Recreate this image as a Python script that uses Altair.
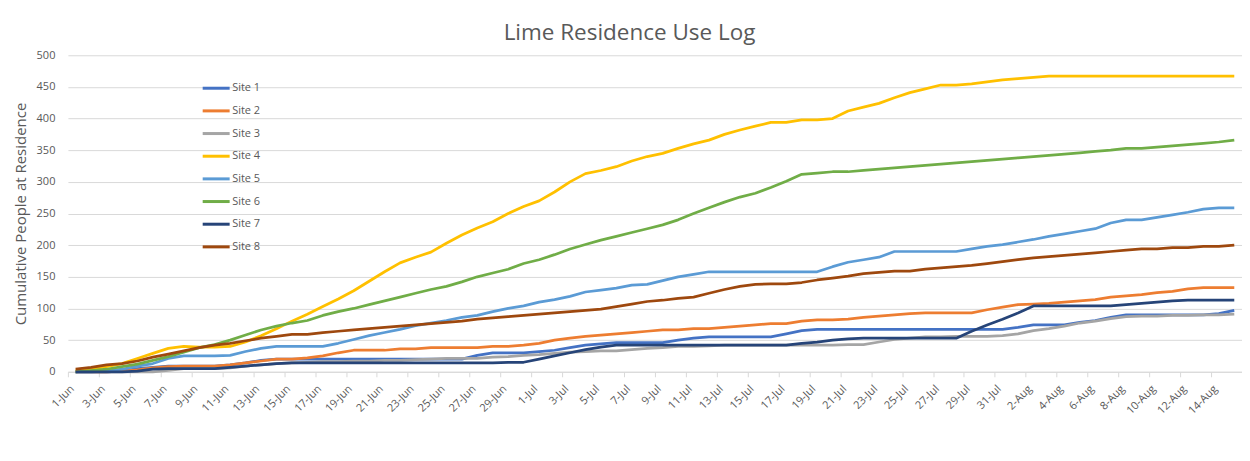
import altair as alt
import pandas as pd

start = pd.Timestamp("2019-06-01")
dates = [f"{d.day}-{d.strftime('%b')}" for d in pd.date_range(start, periods=76)]

sites = ["Site 1", "Site 2", "Site 3", "Site 4", "Site 5", "Site 6", "Site 7", "Site 8"]
colors = ["#4472C4", "#ED7D31", "#A5A5A5", "#FFC000", "#5B9BD5", "#70AD47", "#264478", "#9E480E"]

site1 = [0,0,0,1,5,7,9,9,9,9, 11,14,18,20,20,20,20,20,20,20, 20,20,20,20,20,20,26,30,30,30,
         32,34,38,42,44,46,46,46,46,50, 53,55,55,55,55,55,60,65,67,67, 67,67,67,67,67,67,67,67,67,67,
         67,70,74,74,74,78,81,86,90,90, 90,90,90,90,92,97]
site2 = [0,0,0,1,3,6,8,9,9,9, 11,14,17,20,20,22,25,30,34,34, 34,36,36,38,38,38,38,40,40,42,
         45,50,53,56,58,60,62,64,66,66, 68,68,70,72,74,76,76,80,82,82, 83,86,88,90,92,93,93,93,93,98,
         102,106,107,108,110,112,114,118,120,122, 125,127,131,133,133,133]
site3 = [0,0,0,0,0,0,2,5,5,5, 6,9,11,13,14,15,16,16,17,17, 18,18,19,20,21,21,21,23,24,26,
         27,29,31,32,33,33,35,37,38,40, 40,41,42,42,42,42,42,42,42,42, 43,43,47,51,53,55,55,56,56,56,
         57,60,65,68,72,77,80,84,87,88, 88,89,89,90,90,91]
site4 = [2,4,8,13,21,29,37,40,39,39, 40,47,57,68,80,91,103,115,128,143, 158,172,181,189,203,216,227,237,250,261,
         270,284,300,313,318,324,333,340,345,353, 360,366,375,382,388,394,394,398,398,400,
         412,418,424,433,441,447,453,453,455,458, 461,463,465,467,467,467,467,467,467,467,
         467,467,467,467,467,467]
site5 = [0,0,1,4,9,13,21,25,25,25, 26,32,37,40,40,40,40,45,51,57, 62,67,73,77,81,86,89,95,100,104,
         110,114,119,126,129,132,137,138,144,150, 154,158,158,158,158,158,158,158,158,166,
         173,177,181,190,190,190,190,190,194,198, 201,205,209,214,218,222,226,235,240,240,
         244,248,252,257,259,259]
site6 = [0,2,4,8,12,18,24,31,38,43, 50,58,66,72,77,81,89,95,100,106, 112,118,124,130,135,142,150,156,162,171,
         177,185,194,201,208,214,220,226,232,240, 250,259,268,276,282,291,301,312,314,316,
         316,318,320,322,324,326,328,330,332,334, 336,338,340,342,344,346,348,350,353,353,
         355,357,359,361,363,366]
site7 = [0,0,0,0,1,4,5,5,5,5, 7,9,11,13,14,14,14,14,14,14, 14,14,14,14,14,14,14,14,15,15,
         20,25,30,35,39,42,42,42,42,42, 42,42,42,42,42,42,42,45,47,50, 52,53,53,53,53,53,53,53,64,74,
         83,93,104,104,104,104,104,104,106,108, 110,112,113,113,113,113]
site8 = [4,7,11,13,17,23,28,33,38,42, 45,49,53,56,59,59,62,64,66,68, 70,72,74,76,78,80,83,85,87,89,
         91,93,95,97,99,103,107,111,113,116, 118,124,130,135,138,139,139,141,145,148,
         151,155,157,159,159,162,164,166,168,171, 174,177,180,182,184,186,188,190,192,194,
         194,196,196,198,198,200]

series = [site1, site2, site3, site4, site5, site6, site7, site8]

rows = []
for name, vals in zip(sites, series):
    for i, v in enumerate(vals):
        rows.append({"idx": i, "date": dates[i], "site": name, "value": v})
df = pd.DataFrame(rows)

W, H = 1176, 317
n = len(dates)
step = W / n
label_array = "[" + ",".join(f"'{d}'" for d in dates) + "]"
text_color = "#595959"
grid_color = "#D9D9D9"

xscale = alt.Scale(domain=[-0.5, n - 0.5], nice=False, zero=False)

chart = alt.Chart(df).mark_line(strokeWidth=2.75, strokeJoin="round").encode(
    x=alt.X("idx:Q", scale=xscale,
            axis=alt.Axis(values=list(range(0, n + 1, 2)),
                          labelExpr=f"datum.value < {n} ? {label_array}[datum.value] : ''",
                          labelAngle=-45, ticks=True, tickSize=5, tickColor=grid_color,
                          tickOffset=-step / 2, grid=False, domainColor=grid_color,
                          labelColor=text_color, labelFontSize=11, labelPadding=6,
                          labelOverlap=False, labelFlush=False, labelBound=False, title=None)),
    y=alt.Y("value:Q", scale=alt.Scale(domain=[0, 500], nice=False),
            axis=alt.Axis(values=list(range(0, 501, 50)), grid=True, gridColor=grid_color,
                          domain=False, ticks=False, labelPadding=13, labelColor=text_color,
                          labelFontSize=11, title="Cumulative People at Residence",
                          titleFontSize=15, titleColor=text_color, titleFontWeight="normal",
                          titlePadding=8)),
    color=alt.Color("site:N", scale=alt.Scale(domain=sites, range=colors),
                    legend=alt.Legend(orient="none", legendX=141, legendY=25.5, title=None,
                                      symbolType="M-2.25,0H2.25", symbolSize=144,
                                      symbolStrokeWidth=3, labelOffset=8.5, rowPadding=8.7,
                                      labelFontSize=11, labelColor=text_color, padding=0)),
).properties(
    width=W, height=H,
    title=alt.TitleParams("Lime Residence Use Log", fontSize=22.5, color=text_color,
                          fontWeight="normal", anchor="middle", dx=-25.5, offset=5),
    autosize=alt.AutoSizeParams(type="none"),
    padding={"left": 60, "top": 47, "right": 0, "bottom": 75},
).configure(font="Open Sans").configure_view(stroke=None)

chart.save("out.html", embed_options={"renderer": "svg", "actions": False})
